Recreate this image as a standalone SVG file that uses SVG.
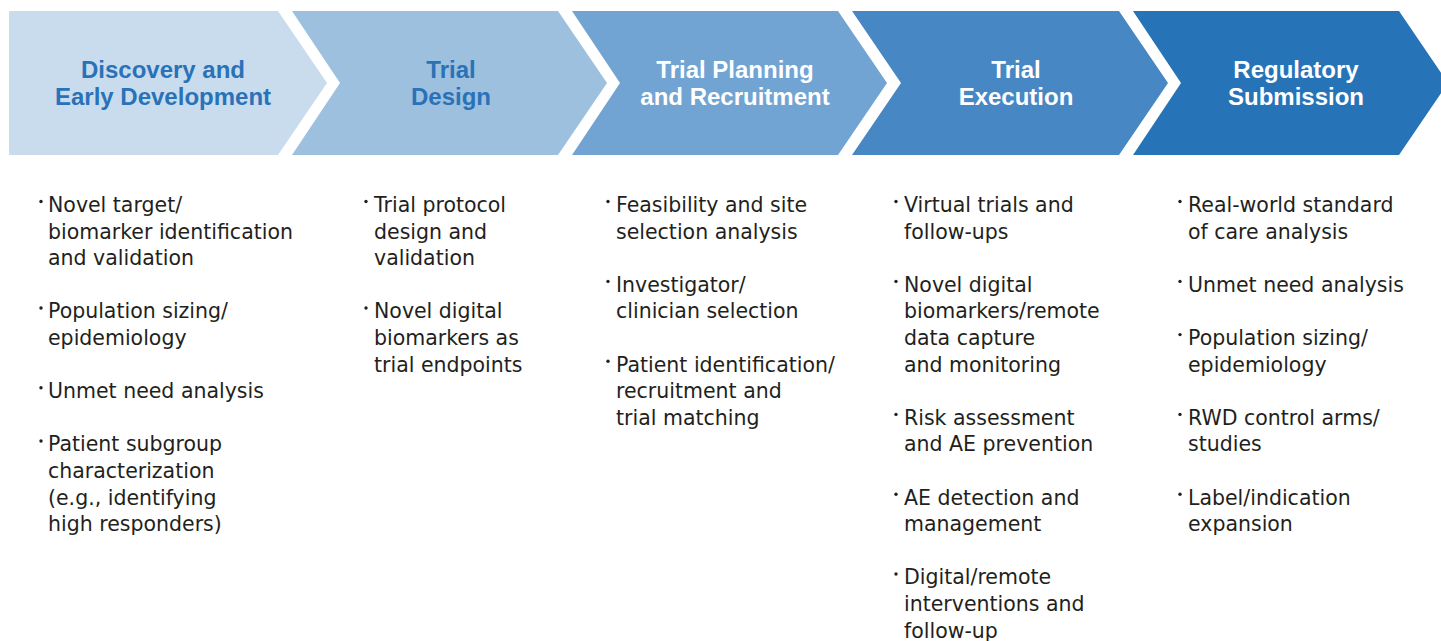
<svg xmlns="http://www.w3.org/2000/svg" width="1441" height="641" viewBox="0 0 1441 641">
  <style>
    .title { font-family: "Liberation Sans", Arial, sans-serif; font-weight: bold; font-size: 24px; text-anchor: middle; }
    .blue { fill: #2a72b8; }
    .white { fill: #ffffff; }
    .item { font-family: "DejaVu Sans", "Liberation Sans", sans-serif; font-size: 20.5px; fill: #231f20; }
    .dot { fill: #231f20; }
  </style>
  <rect width="1441" height="641" fill="#ffffff"/>

  <!-- Stage 1 -->
  <g id="stage-discovery">
    <polygon points="9,11 278,11 327,83 278,155 9,155" fill="#c9dcee"/>
    <text class="title blue" x="163" y="77.5">Discovery and</text>
    <text class="title blue" x="163" y="104.5">Early Development</text>
    <circle class="dot" cx="41" cy="201.5" r="1.7"/>
    <circle class="dot" cx="41" cy="308" r="1.7"/>
    <circle class="dot" cx="41" cy="387.8" r="1.7"/>
    <circle class="dot" cx="41" cy="441" r="1.7"/>
    <text class="item">
      <tspan x="48" y="212">Novel target/</tspan>
      <tspan x="48" y="238.6">biomarker identification</tspan>
      <tspan x="48" y="265.2">and validation</tspan>
      <tspan x="48" y="318.4">Population sizing/</tspan>
      <tspan x="48" y="345">epidemiology</tspan>
      <tspan x="48" y="398.2">Unmet need analysis</tspan>
      <tspan x="48" y="451.4">Patient subgroup</tspan>
      <tspan x="48" y="478">characterization</tspan>
      <tspan x="48" y="504.6">(e.g., identifying</tspan>
      <tspan x="48" y="531.2">high responders)</tspan>
    </text>
  </g>

  <!-- Stage 2 -->
  <g id="stage-trial-design">
    <polygon points="292,11 558,11 607,83 558,155 292,155 340,83" fill="#9dc0de"/>
    <text class="title blue" x="451" y="77.5">Trial</text>
    <text class="title blue" x="451" y="104.5">Design</text>
    <circle class="dot" cx="366" cy="201.5" r="1.7"/>
    <circle class="dot" cx="366" cy="308" r="1.7"/>
    <text class="item">
      <tspan x="374" y="212">Trial protocol</tspan>
      <tspan x="374" y="238.6">design and</tspan>
      <tspan x="374" y="265.2">validation</tspan>
      <tspan x="374" y="318.4">Novel digital</tspan>
      <tspan x="374" y="345">biomarkers as</tspan>
      <tspan x="374" y="371.6">trial endpoints</tspan>
    </text>
  </g>

  <!-- Stage 3 -->
  <g id="stage-planning">
    <polygon points="572,11 838,11 887,83 838,155 572,155 620,83" fill="#71a4d2"/>
    <text class="title white" x="735" y="77.5">Trial Planning</text>
    <text class="title white" x="735" y="104.5">and Recruitment</text>
    <circle class="dot" cx="608" cy="201.5" r="1.7"/>
    <circle class="dot" cx="608" cy="281.4" r="1.7"/>
    <circle class="dot" cx="608" cy="361.2" r="1.7"/>
    <text class="item">
      <tspan x="616" y="212">Feasibility and site</tspan>
      <tspan x="616" y="238.6">selection analysis</tspan>
      <tspan x="616" y="291.8">Investigator/</tspan>
      <tspan x="616" y="318.4">clinician selection</tspan>
      <tspan x="616" y="371.6">Patient identification/</tspan>
      <tspan x="616" y="398.2">recruitment and</tspan>
      <tspan x="616" y="424.8">trial matching</tspan>
    </text>
  </g>

  <!-- Stage 4 -->
  <g id="stage-execution">
    <polygon points="852,11 1119,11 1168,83 1119,155 852,155 901,83" fill="#4787c4"/>
    <text class="title white" x="1016" y="77.5">Trial</text>
    <text class="title white" x="1016" y="104.5">Execution</text>
    <circle class="dot" cx="896" cy="201.5" r="1.7"/>
    <circle class="dot" cx="896" cy="281.4" r="1.7"/>
    <circle class="dot" cx="896" cy="414.4" r="1.7"/>
    <circle class="dot" cx="896" cy="494.2" r="1.7"/>
    <circle class="dot" cx="896" cy="574" r="1.7"/>
    <text class="item">
      <tspan x="904" y="212">Virtual trials and</tspan>
      <tspan x="904" y="238.6">follow-ups</tspan>
      <tspan x="904" y="291.8">Novel digital</tspan>
      <tspan x="904" y="318.4">biomarkers/remote</tspan>
      <tspan x="904" y="345">data capture</tspan>
      <tspan x="904" y="371.6">and monitoring</tspan>
      <tspan x="904" y="424.8">Risk assessment</tspan>
      <tspan x="904" y="451.4">and AE prevention</tspan>
      <tspan x="904" y="504.6">AE detection and</tspan>
      <tspan x="904" y="531.2">management</tspan>
      <tspan x="904" y="584.4">Digital/remote</tspan>
      <tspan x="904" y="611">interventions and</tspan>
      <tspan x="904" y="637.6">follow-up</tspan>
    </text>
  </g>

  <!-- Stage 5 -->
  <g id="stage-submission">
    <polygon points="1133,11 1399,11 1448,83 1399,155 1133,155 1181,83" fill="#2673b8"/>
    <text class="title white" x="1296" y="77.5">Regulatory</text>
    <text class="title white" x="1296" y="104.5">Submission</text>
    <circle class="dot" cx="1180" cy="201.5" r="1.7"/>
    <circle class="dot" cx="1180" cy="281.4" r="1.7"/>
    <circle class="dot" cx="1180" cy="334.6" r="1.7"/>
    <circle class="dot" cx="1180" cy="414.4" r="1.7"/>
    <circle class="dot" cx="1180" cy="494.2" r="1.7"/>
    <text class="item">
      <tspan x="1188" y="212">Real-world standard</tspan>
      <tspan x="1188" y="238.6">of care analysis</tspan>
      <tspan x="1188" y="291.8">Unmet need analysis</tspan>
      <tspan x="1188" y="345">Population sizing/</tspan>
      <tspan x="1188" y="371.6">epidemiology</tspan>
      <tspan x="1188" y="424.8">RWD control arms/</tspan>
      <tspan x="1188" y="451.4">studies</tspan>
      <tspan x="1188" y="504.6">Label/indication</tspan>
      <tspan x="1188" y="531.2">expansion</tspan>
    </text>
  </g>

  <g id="connectors"/>
</svg>
